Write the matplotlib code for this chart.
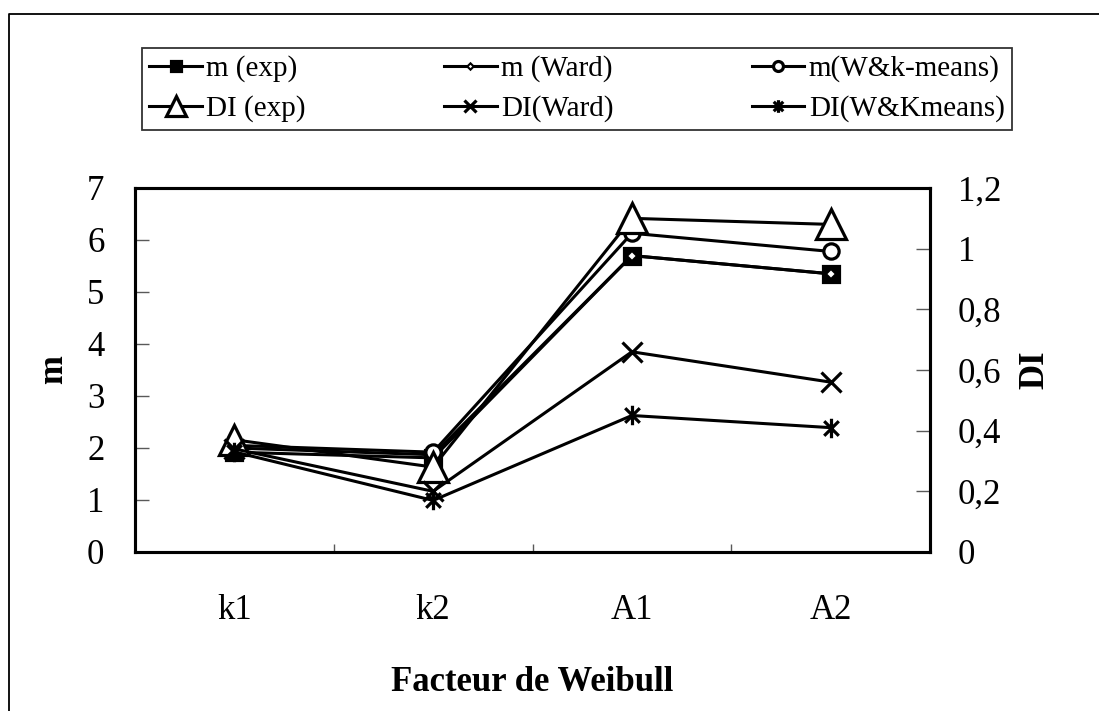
import matplotlib
matplotlib.use("Agg")
import matplotlib.pyplot as plt
import numpy as np
from matplotlib.path import Path
from matplotlib.lines import Line2D

plt.rcParams['font.family'] = ['Liberation Serif', 'DejaVu Serif']

categories = ['k1', 'k2', 'A1', 'A2']
m_exp = [1.92, 1.81, 5.70, 5.35]
m_ward = [2.00, 1.87, 5.70, 5.35]
m_wk = [2.05, 1.92, 6.13, 5.78]
di_exp = [0.37, 0.28, 1.10, 1.08]
di_ward = [0.34, 0.20, 0.66, 0.56]
di_wk = [0.33, 0.17, 0.45, 0.41]

m_ticks = [0, 1, 2, 3, 4, 5, 6, 7]
di_ticks = [0, 0.2, 0.4, 0.6, 0.8, 1.0, 1.2]
di_ticklabels = ['0', '0,2', '0,4', '0,6', '0,8', '1', '1,2']

# excel-like asterisk: vertical bar + X
asterisk = Path([(0, -1), (0, 1), (-0.75, -0.75), (0.75, 0.75), (-0.75, 0.75), (0.75, -0.75)],
                [Path.MOVETO, Path.LINETO, Path.MOVETO, Path.LINETO, Path.MOVETO, Path.LINETO])

fig = plt.figure(figsize=(10.99, 7.11), dpi=100)
ax = fig.add_axes([135/1099, 1-552/711, 795/1099, 364/711])
ax2 = ax.twinx()

x = np.arange(len(categories))
lw = 2.2
mew = 2.3

h1, = ax.plot(x, m_exp, color='black', lw=lw, marker='s', ms=12, mfc='black', mec='black', mew=mew, label='m (exp)')
h2, = ax.plot(x, m_ward, color='black', lw=lw, marker='D', ms=5, mfc='white', mec='black', mew=1.5, label='m (Ward)')
h3, = ax.plot(x, m_wk, color='black', lw=lw, marker='o', ms=11, mfc='white', mec='black', mew=mew, label='m(W&k-means)')
h4, = ax2.plot(x, di_exp, color='black', lw=lw, marker='^', ms=22, mfc='white', mec='black', mew=mew, label='DI (exp)')
h5, = ax2.plot(x, di_ward, color='black', lw=lw, marker='x', ms=14, mec='black', mew=mew, label='DI(Ward)')
h6, = ax2.plot(x, di_wk, color='black', lw=lw, marker=asterisk, ms=14, mfc='none', mec='black', mew=mew, label='DI(W&Kmeans)')

ax.set_xlim(-0.5, 3.5)
ax.set_ylim(0, 7)
ax2.set_ylim(0, 1.2)

ax.set_xticks(x)
ax.set_xticklabels(categories)
ax.set_xticks([0.5, 1.5, 2.5], minor=True)
ax.tick_params(axis='x', which='major', length=0, pad=30, labelsize=25)
ax.tick_params(axis='x', which='minor', direction='in', length=6, width=1, color='0.35')
ax.set_yticks(m_ticks)
ax.tick_params(axis='y', direction='in', length=10, width=1, color='0.35', pad=22, labelsize=25)
ax2.set_yticks(di_ticks)
ax2.set_yticklabels(di_ticklabels)
ax2.tick_params(axis='y', direction='in', length=10, width=1, color='0.35', pad=20, labelsize=25)

for s in ax.spines.values():
    s.set_linewidth(2.2)
for s in ax2.spines.values():
    s.set_linewidth(2.2)

ax.set_ylabel('m', fontsize=25, fontweight='bold', labelpad=12)
ax2.set_ylabel('DI', fontsize=25, fontweight='bold', labelpad=12)
ax.set_xlabel('Facteur de Weibull', fontsize=25, fontweight='bold', labelpad=28)

handles = [h1, h4, h2, h5, h3, h6]
leg = fig.legend(handles=handles, labels=[h.get_label() for h in handles], ncol=3,
                 loc='center', mode='expand',
                 bbox_to_anchor=(142/1099, 1-130/711, 870/1099, 82/711),
                 fontsize=21, frameon=True, fancybox=False, edgecolor='black',
                 handlelength=1.8, handletextpad=0.15, labelspacing=0.45,
                 borderpad=0.25, markerscale=0.65, borderaxespad=0)
leg.get_frame().set_linewidth(1.3)

# outer border of the chart area
fig.add_artist(Line2D([9/1099, 9/1099, 1.0], [0.0, 1-14/711, 1-14/711],
                      transform=fig.transFigure, color='black', lw=1.3))

fig.savefig('out.png', dpi=100)
